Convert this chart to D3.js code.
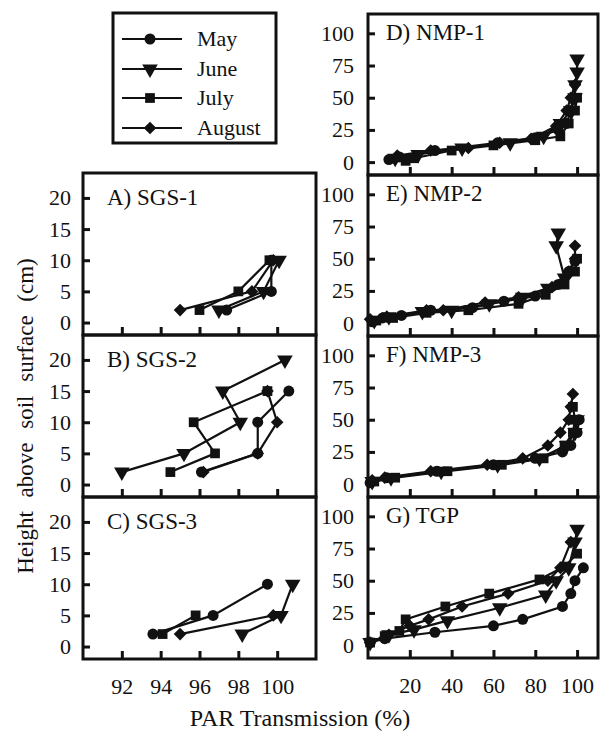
<!DOCTYPE html>
<html>
<head>
<meta charset="utf-8">
<script src="https://cdn.jsdelivr.net/npm/d3@7"></script>
<style>
  body { margin: 0; background: #fff; }
  svg { display: block; }
</style>
</head>
<body>
<div id="canvas"></div>
<script>
// Series names and tick values

let months = ["May", "June", "July", "August"];
let leftYTicks = [0, 5, 10, 15, 20];
let rightYTicks = [0, 25, 50, 75, 100];
let leftXTicks = [92, 94, 96, 98, 100];
let rightXTicks = [20, 40, 60, 80, 100];

// Data: [PAR transmission %, height cm], one list per month

let sgs1 = [
    [[97.4, 2], [99.7, 5], [99.7, 10]],
    [[97.0, 2], [99.3, 5], [100.1, 10]],
    [[96.0, 2], [98.0, 5], [99.6, 10]],
    [[95.0, 2], [98.7, 5], [99.8, 10]]
];
let sgs2 = [
    [[96.1, 2], [99.0, 5], [99.0, 10], [100.6, 15]],
    [[92.0, 2], [95.2, 5], [98.1, 10], [97.2, 15], [100.4, 20]],
    [[94.5, 2], [96.8, 5], [95.7, 10], [99.5, 15]],
    [[96.2, 2], [99.0, 5], [100.0, 10], [99.5, 15]]
];
let sgs3 = [
    [[93.6, 2], [96.7, 5], [99.5, 10]],
    [[98.2, 2], [100.2, 5], [100.8, 10]],
    [[94.1, 2], [95.8, 5]],
    [[95.0, 2], [99.8, 5]]
];
let nmp1 = [
    [[10, 2], [15, 4], [32, 9], [62, 15], [80, 19], [91, 25], [95, 30], [97, 40], [98, 50]],
    [[13, 3], [24, 6], [45, 11], [68, 15], [84, 20], [92, 30], [97, 40], [99, 50], [99, 60], [100, 70], [100, 80]],
    [[18, 1], [22, 3], [40, 9], [60, 13], [80, 17], [92, 20], [96, 30], [99, 40], [100, 50]],
    [[14, 5], [30, 9], [48, 11], [63, 15], [78, 18], [90, 28], [95, 40], [97, 50], [99, 60]]
];
let nmp2 = [
    [[2, 1], [7, 4], [16, 6], [30, 10], [50, 12], [65, 17], [80, 21], [91, 30], [96, 40], [99, 48]],
    [[3, 2], [10, 5], [26, 9], [40, 10], [58, 15], [74, 20], [86, 27], [94, 35], [90, 60], [91, 70]],
    [[4, 2], [12, 4], [28, 8], [48, 10], [72, 15], [85, 22], [94, 30], [99, 40], [100, 50]],
    [[1, 3], [9, 5], [28, 10], [36, 10], [56, 16], [72, 20], [88, 28], [96, 40], [99, 50], [99, 60]]
];
let nmp3 = [
    [[1, 1], [9, 5], [33, 10], [60, 15], [80, 20], [93, 25], [97, 30], [100, 40], [101, 50]],
    [[2, 2], [11, 5], [35, 10], [62, 15], [82, 20], [95, 30], [99, 40], [100, 50]],
    [[3, 2], [13, 5], [38, 10], [64, 15], [84, 20], [94, 30], [98, 40], [99, 50], [98, 60]],
    [[2, 3], [8, 5], [30, 10], [57, 15], [74, 20], [86, 30], [92, 40], [96, 50], [97, 60], [98, 70]]
];
let tgp = [
    [[1, 2], [8, 5], [32, 10], [60, 15], [74, 20], [93, 30], [97, 40], [99, 50], [103, 60]],
    [[1, 2], [10, 8], [22, 12], [38, 19], [63, 29], [85, 39], [90, 50], [96, 60], [99, 80], [100, 90]],
    [[1, 2], [8, 7], [15, 11], [18, 20], [37, 30], [58, 40], [82, 51], [94, 61], [100, 71]],
    [[1, 2], [10, 8], [20, 15], [29, 20], [45, 30], [67, 40], [86, 50], [92, 60], [97, 80]]
];

// Layout

let W = 609, H = 732;
let ink = "#111";
let serif = "'Liberation Serif', 'Times New Roman', serif";

let left = {x: 83, w: 233, h: 162, xDomain: [90, 102], yDomain: [-2, 24], xTicks: leftXTicks, yTicks: leftYTicks, yPad: 12, titleDx: 24, titleTick: 20};
let right = {x: 368, w: 230, h: 161, xDomain: [0, 110], yDomain: [-10, 115], xTicks: rightXTicks, yTicks: rightYTicks, yPad: 14, titleDx: 18, titleTick: 100};

let panels = [
    {col: left, top: 173, title: "A) SGS-1", data: sgs1},
    {col: left, top: 335, title: "B) SGS-2", data: sgs2},
    {col: left, top: 497, title: "C) SGS-3", data: sgs3, labels: true},
    {col: right, top: 14, title: "D) NMP-1", data: nmp1},
    {col: right, top: 175, title: "E) NMP-2", data: nmp2},
    {col: right, top: 336, title: "F) NMP-3", data: nmp3},
    {col: right, top: 497, title: "G) TGP", data: tgp, labels: true}
];

let svg = d3.select("#canvas")
    .append("svg")
    .attr("width", W)
    .attr("height", H)
    .style("background-color", "#fff")
    .style("font-family", serif);

// Marker shapes: circle, down triangle, square, diamond

function marker(sel, i) {
    if (i === 0) {
        sel.attr("d", d3.symbol(d3.symbolCircle, 95)());
    } else if (i === 1) {
        sel.attr("d", d3.symbol(d3.symbolTriangle, 105)()).attr("data-rot", 180);
    } else if (i === 2) {
        sel.attr("d", d3.symbol(d3.symbolSquare, 95)());
    } else {
        sel.attr("d", d3.symbol(d3.symbolSquare, 80)()).attr("data-rot", 45);
    }
}

function styleAxis(a) {
    a.attr("font-family", serif).attr("font-size", 22);
    a.select(".domain").remove();
    a.selectAll("line").attr("stroke", ink).attr("stroke-width", 3);
    a.selectAll("text").attr("fill", ink);
}

function drawPanel(p) {
    let c = p.col;
    let x = d3.scaleLinear().domain(c.xDomain).range([c.x, c.x + c.w]);
    let y = d3.scaleLinear().domain(c.yDomain).range([p.top + c.h, p.top]);
    let g = svg.append("g");

    // Axes with inward ticks

    g.append("g")
        .attr("transform", "translate(" + c.x + ",0)")
        .call(d3.axisLeft(y).tickValues(c.yTicks).tickSizeInner(-7).tickSizeOuter(0).tickPadding(c.yPad))
        .call(styleAxis);

    let xa = g.append("g")
        .attr("transform", "translate(0," + (p.top + c.h) + ")")
        .call(d3.axisBottom(x).tickValues(c.xTicks).tickSizeInner(-8).tickSizeOuter(0).tickPadding(19))
        .call(styleAxis);
    if (!p.labels) xa.selectAll("text").remove();

    // Frame

    g.append("rect")
        .attr("x", c.x)
        .attr("y", p.top)
        .attr("width", c.w)
        .attr("height", c.h)
        .style("fill", "none")
        .style("stroke", ink)
        .style("stroke-width", 3);

    // Panel title

    g.append("text")
        .attr("x", c.x + c.titleDx)
        .attr("y", y(c.titleTick) + 7)
        .style("font-size", "23px")
        .style("fill", ink)
        .text(p.title);

    // Lines then markers

    let line = d3.line().x(d => x(d[0])).y(d => y(d[1]));

    p.data.forEach((s, i) => {
        g.append("path")
            .datum(s)
            .attr("d", line)
            .style("fill", "none")
            .style("stroke", ink)
            .style("stroke-width", 2.2);
    });

    p.data.forEach((s, i) => {
        g.selectAll(null)
            .data(s)
            .enter()
            .append("path")
            .call(marker, i)
            .attr("transform", function (d) {
                let r = this.getAttribute("data-rot") || 0;
                return "translate(" + x(d[0]) + "," + y(d[1]) + ") rotate(" + r + ")";
            })
            .style("fill", ink);
    });
}

panels.forEach(drawPanel);

// Legend

let legendRows = d3.scaleOrdinal().domain(months).range([39, 69, 98, 128]);

svg.append("rect")
    .attr("x", 113)
    .attr("y", 13)
    .attr("width", 163)
    .attr("height", 130)
    .style("fill", "#fff")
    .style("stroke", ink)
    .style("stroke-width", 3);

months.forEach((m, i) => {
    let ly = legendRows(m);
    svg.append("line")
        .attr("x1", 122).attr("x2", 182)
        .attr("y1", ly).attr("y2", ly)
        .style("stroke", ink)
        .style("stroke-width", 2.2);
    svg.append("path")
        .call(marker, i)
        .attr("transform", function () {
            let r = this.getAttribute("data-rot") || 0;
            return "translate(150," + ly + ") rotate(" + r + ")";
        })
        .style("fill", ink);
    svg.append("text")
        .attr("x", 197)
        .attr("y", ly + 7)
        .style("font-size", "22px")
        .style("fill", ink)
        .text(m);
});

// Axis titles

svg.append("text")
    .attr("transform", "translate(33,416) rotate(-90)")
    .style("text-anchor", "middle")
    .style("font-size", "23px")
    .style("word-spacing", "8px")
    .style("fill", ink)
    .text("Height above soil surface (cm)");

svg.append("text")
    .attr("x", 300)
    .attr("y", 726)
    .style("text-anchor", "middle")
    .style("font-size", "24px")
    .style("fill", ink)
    .text("PAR Transmission (%)");
</script>
</body>
</html>
